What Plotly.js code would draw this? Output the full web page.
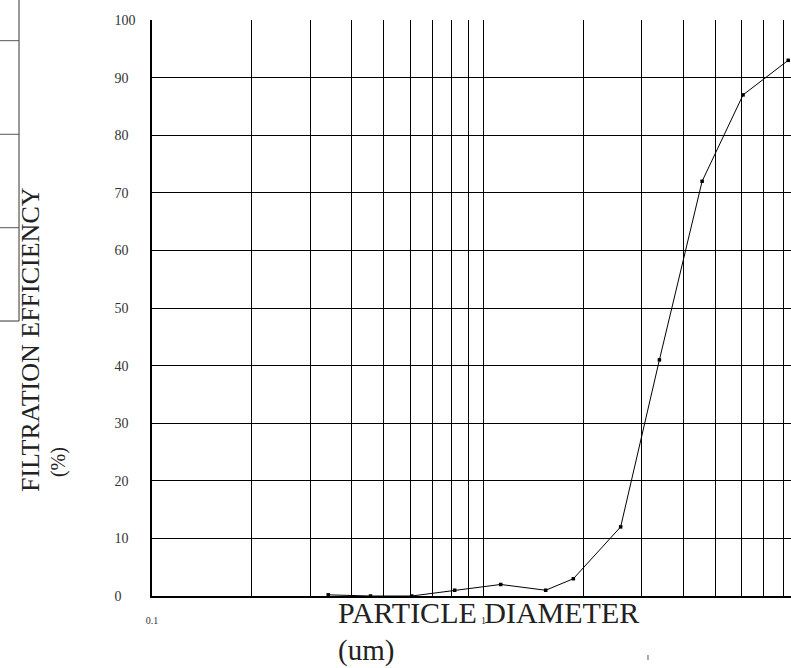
<!DOCTYPE html>
<html>
<head>
<meta charset="utf-8">
<script src="https://cdn.plot.ly/plotly-3.0.1.min.js"></script>
<style>
  html, body { margin: 0; padding: 0; background: #ffffff; }
  #chart { width: 791px; height: 668px; }
</style>
</head>
<body>
<div id="chart"></div>
<script>
// ---- data ----
const particleDiameter = [0.34, 0.456, 0.607, 0.818, 1.126, 1.539, 1.865, 2.59, 3.39, 4.56, 6.06, 8.29];
const filtrationEfficiency = [0.2, 0, 0, 1, 2, 1, 3, 12, 41, 72, 87, 93];

const xGridValues = [0.1, 0.2, 0.3, 0.4, 0.5, 0.6, 0.7, 0.8, 0.9, 1, 2, 3, 4, 5, 6, 7, 8, 9];
const xTickLabels = ['0.1', '', '', '', '', '', '', '', '', '1', '', '', '', '', '', '', '', ''];
const yTickValues = [0, 10, 20, 30, 40, 50, 60, 70, 80, 90, 100];
const yTickLabels = ['0', '10', '20', '30', '40', '50', '60', '70', '80', '90', '100'];

const xTitle = 'PARTICLE DIAMETER';
const xUnit = '(um)';
const yTitle = 'FILTRATION EFFICIENCY';
const yUnit = '(%)';

// pad labels with no-break spaces so they read left-aligned like the reference
const NB = '\u00A0';
const yTickText = yTickLabels.map(function (s) { return s + NB.repeat(2 * (3 - s.length)); });

const serif = 'Liberation Serif, Times New Roman, serif';

const trace = {
  type: 'scatter',
  mode: 'lines+markers',
  x: particleDiameter,
  y: filtrationEfficiency,
  line: { color: '#000000', width: 1 },
  marker: { symbol: 'square', size: 3.5, color: '#000000' },
  cliponaxis: false,
  showlegend: false,
  hoverinfo: 'x+y'
};

const layout = {
  width: 791,
  height: 668,
  margin: { l: 152, r: 0, t: 20, b: 72, pad: 0 },
  paper_bgcolor: '#ffffff',
  plot_bgcolor: '#ffffff',
  showlegend: false,
  font: { family: serif, color: '#333333' },
  xaxis: {
    type: 'log',
    range: [-1, 0.927],
    tickmode: 'array',
    tickvals: xGridValues,
    ticktext: xTickLabels,
    ticks: '',
    ticklabelstandoff: 14,
    tickfont: { family: serif, size: 10, color: '#333333' },
    showgrid: true,
    gridcolor: '#000000',
    gridwidth: 1.3,
    showline: true,
    linecolor: '#000000',
    linewidth: 1.5,
    zeroline: false,
    fixedrange: true
  },
  yaxis: {
    range: [0, 100],
    tickmode: 'array',
    tickvals: yTickValues,
    ticktext: yTickText,
    ticks: '',
    ticklabelstandoff: 12,
    tickfont: { family: serif, size: 14, color: '#333333' },
    showgrid: true,
    gridcolor: '#000000',
    gridwidth: 1.3,
    showline: true,
    linecolor: '#000000',
    linewidth: 1.5,
    zeroline: false,
    fixedrange: true
  },
  annotations: [
    {
      text: xTitle, xref: 'paper', yref: 'paper',
      x: 0.288, y: -0.0295, xanchor: 'left', yanchor: 'middle',
      showarrow: false, font: { family: serif, size: 30, color: '#222222' }
    },
    {
      text: xUnit, xref: 'paper', yref: 'paper',
      x: 0.288, y: -0.094, xanchor: 'left', yanchor: 'middle',
      showarrow: false, font: { family: serif, size: 29, color: '#222222' }
    },
    {
      text: yTitle, xref: 'paper', yref: 'paper', textangle: -90,
      x: -0.191, y: 0.446, xanchor: 'center', yanchor: 'middle',
      showarrow: false, font: { family: serif, size: 26, color: '#222222' }
    },
    {
      text: yUnit, xref: 'paper', yref: 'paper', textangle: -90,
      x: -0.147, y: 0.2326, xanchor: 'center', yanchor: 'middle',
      showarrow: false, font: { family: serif, size: 20, color: '#222222' }
    }
  ],
  shapes: [
    // stray table border fragments at the left edge of the reference
    { type: 'line', xref: 'paper', yref: 'paper', x0: -0.2081, x1: -0.2081, y0: 1.0347, y1: 0.4774, line: { color: '#333333', width: 1 } },
    { type: 'line', xref: 'paper', yref: 'paper', x0: -0.2379, x1: -0.2081, y0: 0.9641, y1: 0.9641, line: { color: '#555555', width: 1 } },
    { type: 'line', xref: 'paper', yref: 'paper', x0: -0.2379, x1: -0.2081, y0: 0.8016, y1: 0.8016, line: { color: '#555555', width: 1 } },
    { type: 'line', xref: 'paper', yref: 'paper', x0: -0.2379, x1: -0.2081, y0: 0.6394, y1: 0.6394, line: { color: '#555555', width: 1 } },
    { type: 'line', xref: 'paper', yref: 'paper', x0: -0.2379, x1: -0.2081, y0: 0.4774, y1: 0.4774, line: { color: '#333333', width: 1 } },
    // small stray mark below the axis
    { type: 'line', xref: 'paper', yref: 'paper', x0: 0.7762, x1: 0.7762, y0: -0.1024, y1: -0.1111, line: { color: '#555555', width: 1 } }
  ]
};

Plotly.newPlot('chart', [trace], layout, { displayModeBar: false, staticPlot: false });
</script>
</body>
</html>
